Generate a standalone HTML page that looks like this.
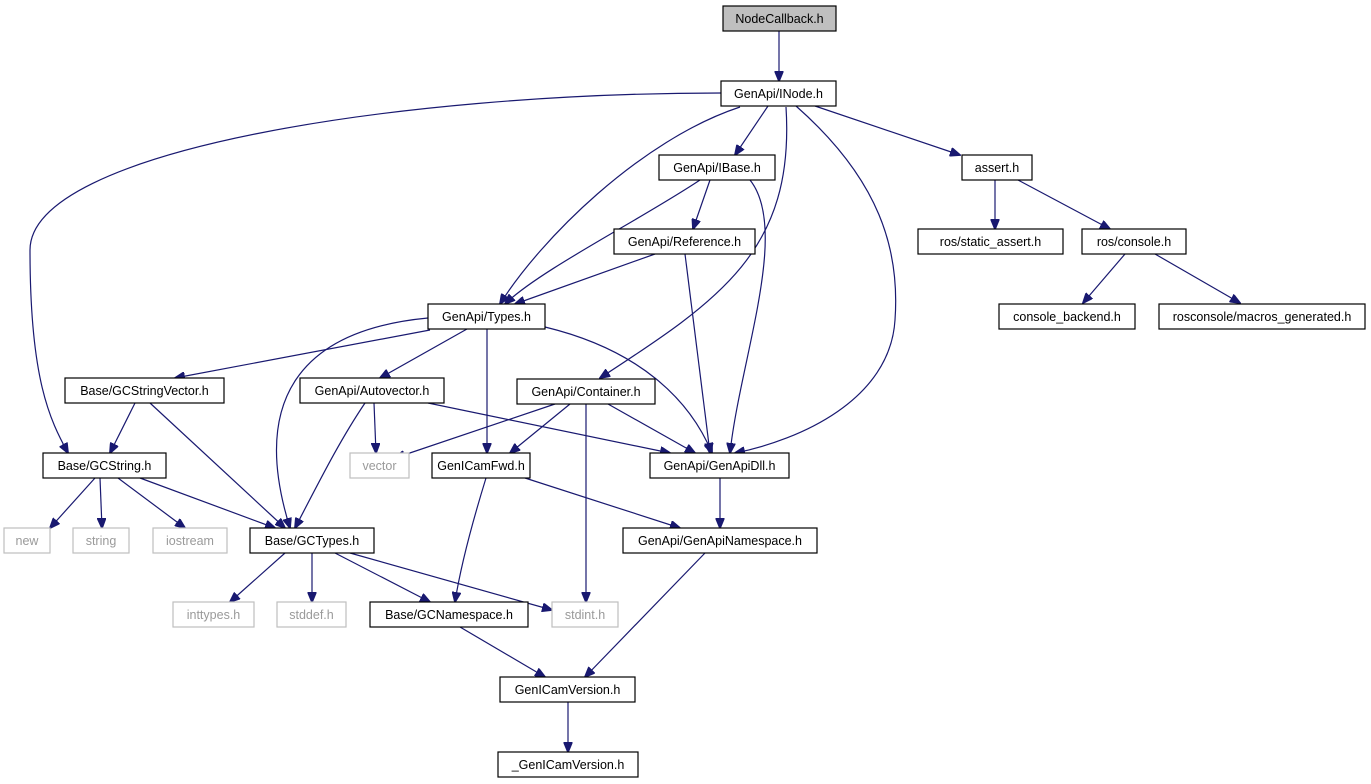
<!DOCTYPE html>
<html><head><meta charset="utf-8"><style>
html,body{margin:0;padding:0;background:#fff;}
svg{display:block;}
text{font-family:"Liberation Sans",sans-serif;font-size:12.5px;fill:#000;text-anchor:middle;}
.b{fill:#fff;stroke:#000;stroke-width:1.2;}
.g{fill:#fff;stroke:#bfbfbf;stroke-width:1.2;}
.gt{fill:#9a9a9a;}
path.e{fill:none;stroke:#191970;stroke-width:1.2;marker-end:url(#a);}
</style></head><body>
<svg width="1371" height="784" viewBox="0 0 1371 784">
<defs><marker id="a" markerWidth="11" markerHeight="9" refX="10" refY="4.5" orient="auto" markerUnits="userSpaceOnUse"><path d="M0,0 L11,4.5 L0,9 z" fill="#191970" stroke="#191970"/></marker></defs>
<g>
<path class="e" d="M779,31 L779,81"/>
<path class="e" d="M721,93 C400,93 30,150 30,250 C30,380 50,420 68,453"/>
<path class="e" d="M740,107 C640,140 540,240 500,304"/>
<path class="e" d="M768,106 L735,155"/>
<path class="e" d="M786,107 C795,250 720,300 600,378"/>
<path class="e" d="M796,106 C880,180 900,250 895,320 C890,400 800,440 735,453"/>
<path class="e" d="M815,106 L960,155"/>
<path class="e" d="M700,180 C640,220 540,270 505,304"/>
<path class="e" d="M710,180 L693,229"/>
<path class="e" d="M750,180 C790,230 740,360 730,453"/>
<path class="e" d="M995,180 L995,229"/>
<path class="e" d="M1018,180 L1110,229"/>
<path class="e" d="M1125,254 L1083,303"/>
<path class="e" d="M1155,254 L1240,303"/>
<path class="e" d="M655,254 L515,304"/>
<path class="e" d="M685,254 L710,453"/>
<path class="e" d="M430,330 L175,378"/>
<path class="e" d="M467,329 L380,378"/>
<path class="e" d="M428,318 C300,330 250,400 290,528"/>
<path class="e" d="M487,329 L487,453"/>
<path class="e" d="M545,327 C640,350 690,400 712,453"/>
<path class="e" d="M135,403 L110,453"/>
<path class="e" d="M150,403 L285,528"/>
<path class="e" d="M374,403 L376,453"/>
<path class="e" d="M365,403 C340,440 320,480 295,528"/>
<path class="e" d="M428,403 L670,453"/>
<path class="e" d="M555,404 L395,458"/>
<path class="e" d="M570,404 L510,453"/>
<path class="e" d="M608,404 L695,453"/>
<path class="e" d="M586,404 L586,602"/>
<path class="e" d="M95,478 L50,528"/>
<path class="e" d="M100,478 L102,528"/>
<path class="e" d="M118,478 L185,528"/>
<path class="e" d="M140,478 L275,528"/>
<path class="e" d="M285,553 L230,602"/>
<path class="e" d="M312,553 L312,602"/>
<path class="e" d="M335,553 L430,602"/>
<path class="e" d="M350,553 L552,610"/>
<path class="e" d="M486,478 C470,530 460,570 455,602"/>
<path class="e" d="M525,478 L680,528"/>
<path class="e" d="M720,478 L720,528"/>
<path class="e" d="M705,553 L585,677"/>
<path class="e" d="M460,627 L545,677"/>
<path class="e" d="M568,702 L568,752"/>
</g>
<g>
<rect x="723" y="6" width="113" height="25" fill="#bfbfbf" stroke="#000" stroke-width="1.2"/><text x="779.5" y="23">NodeCallback.h</text>
<rect class="b" x="721" y="81" width="115" height="25"/><text x="778.5" y="98">GenApi/INode.h</text>
<rect class="b" x="659" y="155" width="116" height="25"/><text x="717" y="172">GenApi/IBase.h</text>
<rect class="b" x="962" y="155" width="70" height="25"/><text x="997" y="172">assert.h</text>
<rect class="b" x="614" y="229" width="141" height="25"/><text x="684.5" y="246">GenApi/Reference.h</text>
<rect class="b" x="918" y="229" width="145" height="25"/><text x="990.5" y="246">ros/static_assert.h</text>
<rect class="b" x="1082" y="229" width="104" height="25"/><text x="1134" y="246">ros/console.h</text>
<rect class="b" x="428" y="304" width="117" height="25"/><text x="486.5" y="321">GenApi/Types.h</text>
<rect class="b" x="999" y="304" width="136" height="25"/><text x="1067" y="321">console_backend.h</text>
<rect class="b" x="1159" y="304" width="206" height="25"/><text x="1262" y="321">rosconsole/macros_generated.h</text>
<rect class="b" x="65" y="378" width="159" height="25"/><text x="144.5" y="395">Base/GCStringVector.h</text>
<rect class="b" x="300" y="378" width="144" height="25"/><text x="372" y="395">GenApi/Autovector.h</text>
<rect class="b" x="517" y="379" width="138" height="25"/><text x="586" y="396">GenApi/Container.h</text>
<rect class="b" x="43" y="453" width="123" height="25"/><text x="104.5" y="470">Base/GCString.h</text>
<rect class="g" x="350" y="453" width="59" height="25"/><text class="gt" x="379.5" y="470">vector</text>
<rect class="b" x="432" y="453" width="98" height="25"/><text x="481" y="470">GenICamFwd.h</text>
<rect class="b" x="650" y="453" width="139" height="25"/><text x="719.5" y="470">GenApi/GenApiDll.h</text>
<rect class="g" x="4" y="528" width="46" height="25"/><text class="gt" x="27" y="545">new</text>
<rect class="g" x="73" y="528" width="56" height="25"/><text class="gt" x="101" y="545">string</text>
<rect class="g" x="153" y="528" width="74" height="25"/><text class="gt" x="190" y="545">iostream</text>
<rect class="b" x="250" y="528" width="124" height="25"/><text x="312" y="545">Base/GCTypes.h</text>
<rect class="b" x="623" y="528" width="194" height="25"/><text x="720" y="545">GenApi/GenApiNamespace.h</text>
<rect class="g" x="173" y="602" width="81" height="25"/><text class="gt" x="213.5" y="619">inttypes.h</text>
<rect class="g" x="277" y="602" width="69" height="25"/><text class="gt" x="311.5" y="619">stddef.h</text>
<rect class="b" x="370" y="602" width="158" height="25"/><text x="449" y="619">Base/GCNamespace.h</text>
<rect class="g" x="552" y="602" width="66" height="25"/><text class="gt" x="585" y="619">stdint.h</text>
<rect class="b" x="500" y="677" width="135" height="25"/><text x="567.5" y="694">GenICamVersion.h</text>
<rect class="b" x="498" y="752" width="140" height="25"/><text x="568" y="769">_GenICamVersion.h</text>
</g>
</svg>
</body></html>
